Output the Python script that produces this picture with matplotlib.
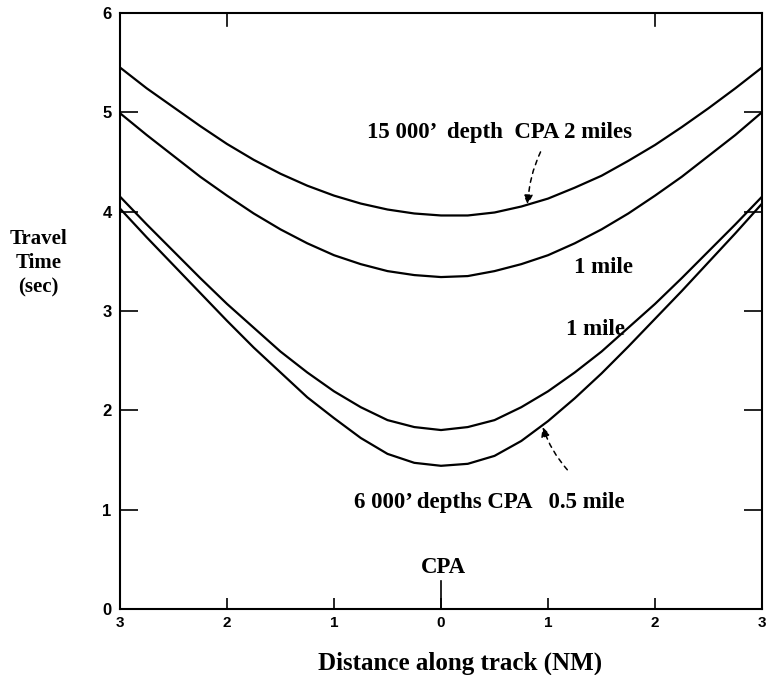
import matplotlib
matplotlib.use("Agg")
import matplotlib.pyplot as plt

# distance along track (NM), negative = before CPA
dist = [-3, -2.75, -2.5, -2.25, -2, -1.75, -1.5, -1.25, -1, -0.75, -0.5, -0.25, 0,
        0.25, 0.5, 0.75, 1, 1.25, 1.5, 1.75, 2, 2.25, 2.5, 2.75, 3]

# travel time (sec)
deep_2mi = [5.45, 5.24, 5.05, 4.86, 4.68, 4.52, 4.38, 4.26, 4.16, 4.08, 4.02, 3.98, 3.96,
            3.96, 3.99, 4.05, 4.13, 4.24, 4.36, 4.51, 4.67, 4.85, 5.04, 5.24, 5.45]
deep_1mi = [4.99, 4.77, 4.56, 4.35, 4.16, 3.98, 3.82, 3.68, 3.56, 3.47, 3.40, 3.36, 3.34,
            3.35, 3.40, 3.47, 3.56, 3.68, 3.82, 3.98, 4.16, 4.35, 4.56, 4.77, 5.00]
shallow_1mi = [4.15, 3.87, 3.60, 3.33, 3.07, 2.83, 2.59, 2.38, 2.19, 2.03, 1.90, 1.83, 1.80,
               1.83, 1.90, 2.03, 2.19, 2.38, 2.59, 2.83, 3.07, 3.33, 3.60, 3.87, 4.15]
shallow_05mi = [4.03, 3.74, 3.46, 3.18, 2.90, 2.63, 2.38, 2.13, 1.92, 1.72, 1.56, 1.47, 1.44,
                1.46, 1.54, 1.69, 1.89, 2.12, 2.37, 2.64, 2.92, 3.20, 3.49, 3.78, 4.08]

xticks = [-3, -2, -1, 0, 1, 2, 3]
xticklabels = ["3", "2", "1", "0", "1", "2", "3"]
yticks = [0, 1, 2, 3, 4, 5, 6]

serif = "Liberation Serif"
sans = "Liberation Sans"

fig = plt.figure(figsize=(7.69, 6.75), dpi=100)
ax = fig.add_axes([0.156, 0.098, 0.835, 0.883])

for series in [deep_2mi, deep_1mi, shallow_1mi, shallow_05mi]:
    ax.plot(dist, series, color="black", lw=1.6, solid_capstyle="round",
            solid_joinstyle="round")

ax.set_xlim(-3, 3)
ax.set_ylim(0, 6)

for s in ax.spines.values():
    s.set_linewidth(1.5)

ax.set_xticks(xticks)
ax.set_xticklabels(xticklabels, fontfamily=sans, fontweight="bold", fontsize=11)
ax.set_yticks(yticks)
ax.set_yticklabels([str(v) for v in yticks], fontfamily=sans, fontweight="bold", fontsize=12)
ax.tick_params(axis="y", direction="in", length=13, width=1.2, pad=6, right=True)
ax.tick_params(axis="x", direction="in", length=8, width=1.2, pad=5)

# top ticks only at 2 NM either side
for xt in [-2, 2]:
    ax.plot([xt, xt], [6, 5.87], color="black", lw=1.2, clip_on=False)

# long tick at CPA
ax.plot([0, 0], [0, 0.28], color="black", lw=1.2)

fig.text(0.598, 0.018, "Distance along track (NM)", fontfamily=serif, fontweight="bold",
         fontsize=18, ha="center", va="center")
fig.text(0.05, 0.61, "Travel\nTime\n(sec)", fontfamily=serif, fontweight="bold",
         fontsize=15, ha="center", va="center", linespacing=1.25)

lab = dict(fontfamily=serif, fontweight="bold", fontsize=16.5, ha="center", va="center")
ax.text(0.55, 4.80, "15 000\u2019  depth  CPA 2 miles", **lab)
ax.text(1.52, 3.44, "1 mile", **lab)
ax.text(1.44, 2.81, "1 mile", **lab)
ax.text(0.45, 1.07, "6 000\u2019 depths CPA   0.5 mile", **lab)
ax.text(0.02, 0.42, "CPA", **lab)

arrow_style = dict(arrowstyle="-|>", color="black", lw=1.1, linestyle=(0, (3, 3)),
                   mutation_scale=14, shrinkA=0, shrinkB=0)
ax.annotate("", xy=(0.81, 4.07), xytext=(0.93, 4.60),
            arrowprops=dict(connectionstyle="arc3,rad=0.1", **arrow_style))
ax.annotate("", xy=(0.95, 1.83), xytext=(1.18, 1.40),
            arrowprops=dict(connectionstyle="arc3,rad=-0.1", **arrow_style))

fig.savefig("out.png", dpi=100)
